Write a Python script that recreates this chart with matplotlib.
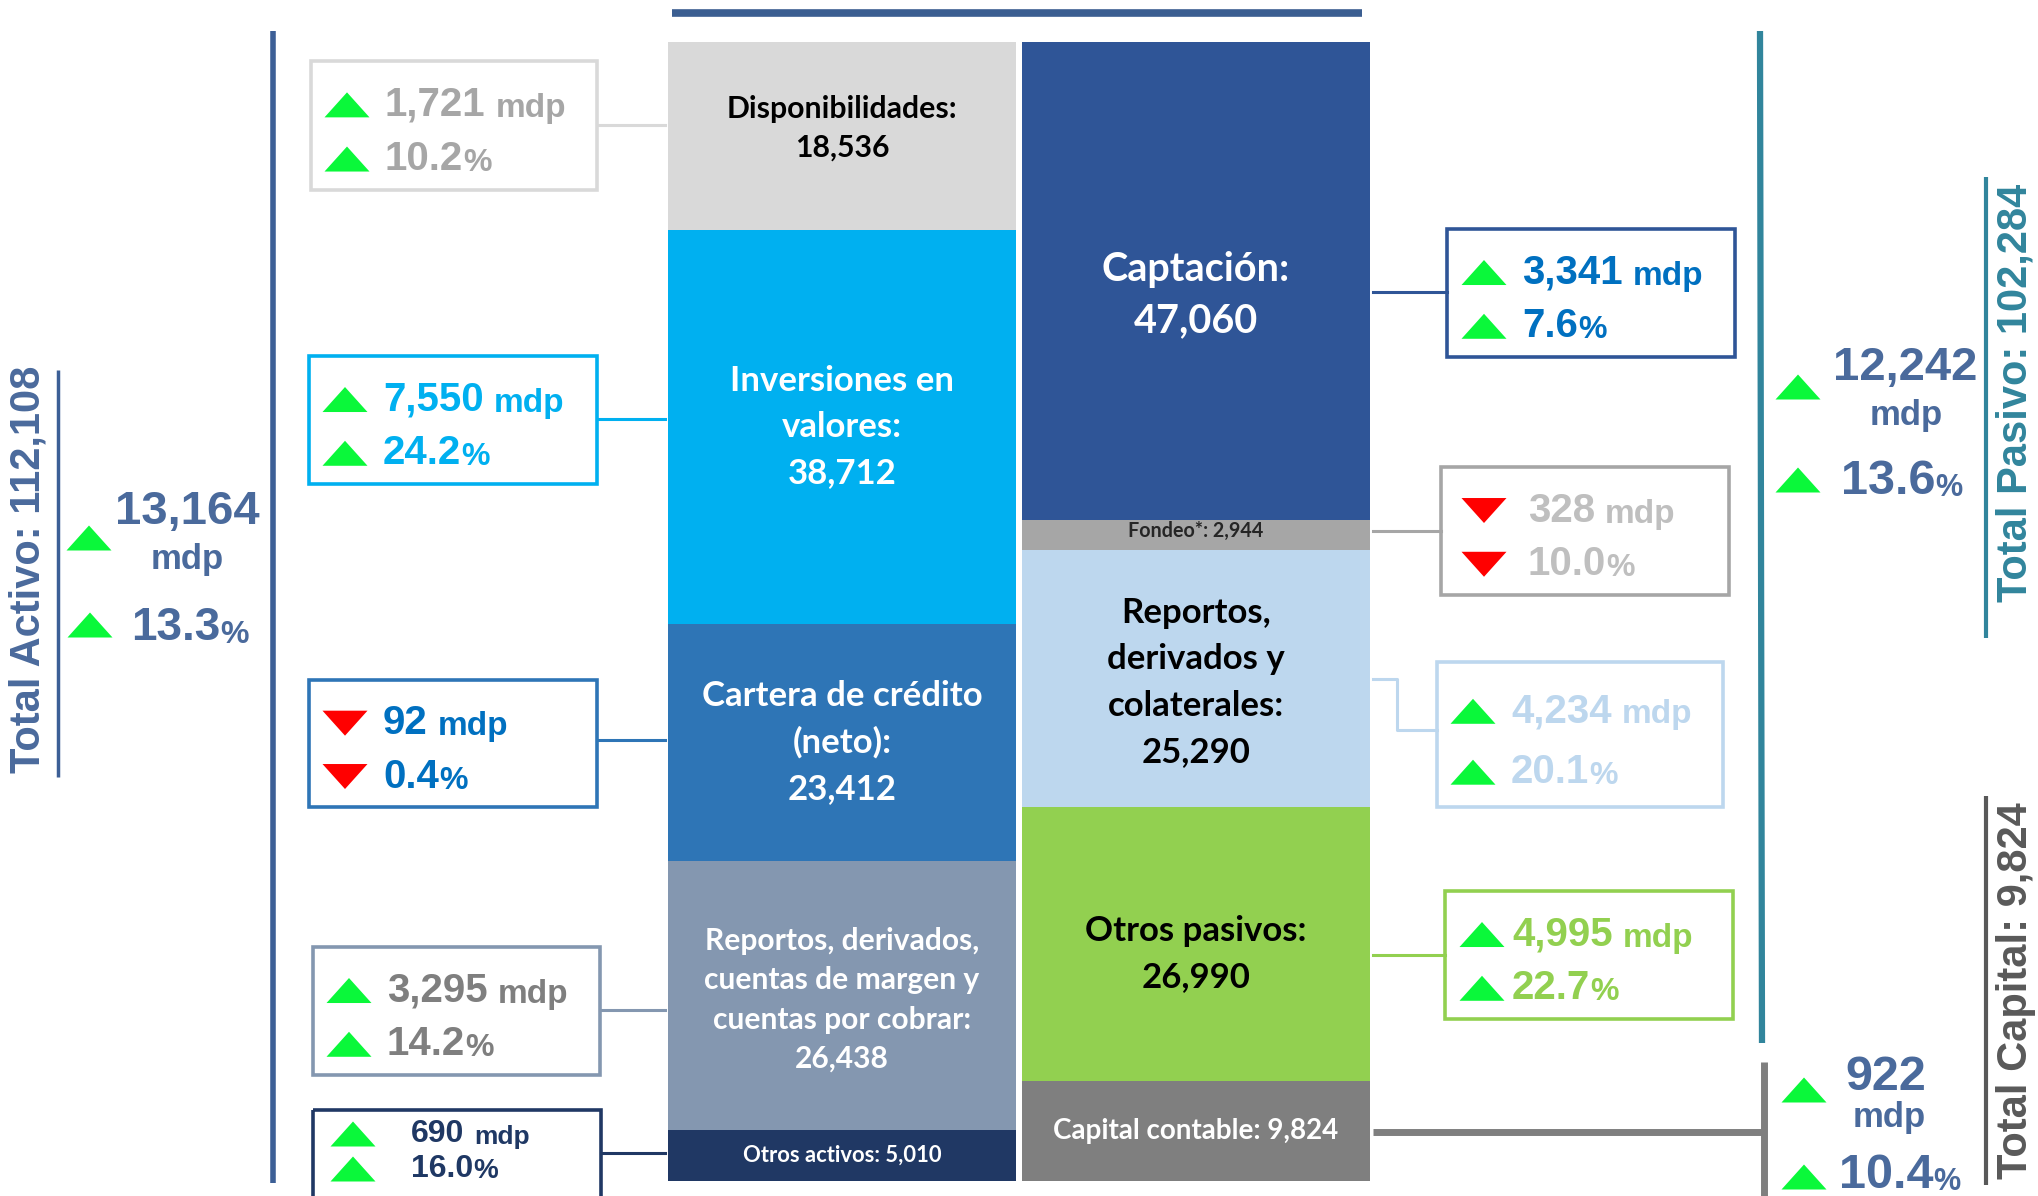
import numpy as np
import matplotlib
matplotlib.use("Agg")
import matplotlib.pyplot as plt
from matplotlib.patches import Rectangle, Polygon

# ---- data ----
activo_names = ["Disponibilidades:\n", "Inversiones en\nvalores:\n", "Cartera de crédito\n(neto):\n",
                "Reportos, derivados,\ncuentas de margen y\ncuentas por cobrar:\n", "Otros activos: "]
activo_values = [18536, 38712, 23412, 26438, 5010]
activo_chg_mdp = [1721, 7550, 92, 3295, 690]
activo_chg_pct = [10.2, 24.2, 0.4, 14.2, 16.0]
activo_dir = [1, 1, -1, 1, 1]

pasivo_names = ["Captación:\n", "Fondeo*: ", "Reportos,\nderivados y\ncolaterales:\n",
                "Otros pasivos:\n", "Capital contable: "]
pasivo_values = [47060, 2944, 25290, 26990, 9824]
pasivo_chg_mdp = [3341, 328, 4234, 4995]
pasivo_chg_pct = [7.6, 10.0, 20.1, 22.7]
pasivo_dir = [1, -1, 1, 1]

total_activo, total_activo_mdp, total_activo_pct = 112108, 13164, 13.3
total_pasivo, total_pasivo_mdp, total_pasivo_pct = 102284, 12242, 13.6
total_capital, total_capital_mdp, total_capital_pct = 9824, 922, 10.4

# ---- styles ----
activo_colors = ["#D9D9D9", "#00B0F0", "#2E75B6", "#8497B0", "#203864"]
activo_txt = ["black", "white", "white", "white", "white"]
activo_fs = [21.8, 25, 25, 21.6, 15.8]
activo_ls = [1.45, 1.55, 1.55, 1.5, 1.2]
activo_dy = [-8, 0, 0, 4, 0]
pasivo_colors = ["#2F5597", "#A6A6A6", "#BDD7EE", "#92D050", "#7F7F7F"]
pasivo_txt = ["white", "#262626", "black", "black", "white"]
pasivo_fs = [28.5, 14.2, 25, 25, 20]
pasivo_ls = [1.5, 1.2, 1.55, 1.55, 1.2]
pasivo_dy = [14, -4, 4, 10, 0]

ARIAL = ["Liberation Sans", "DejaVu Sans"]
CALI = ["Lato", "DejaVu Sans"]
GREEN = "#0AF83A"
RED = "#FF0000"
NAVYTXT = "#4A6A9C"

W, H = 2038, 1196
fig = plt.figure(figsize=(W / 100, H / 100), dpi=100)
cv = fig.add_axes([0, 0, 1, 1], zorder=0)
cv.set_xlim(0, W)
cv.set_ylim(H, 0)
cv.axis("off")

# bars axes
bx0, bx1, by0, by1 = 665, 1373, 42, 1181
bar = fig.add_axes([bx0 / W, 1 - by1 / H, (bx1 - bx0) / W, (by1 - by0) / H], zorder=2)
bar.patch.set_alpha(0)
bar.axis("off")
bar.set_xlim(-0.5, 1.5)
bar.set_ylim(total_activo, 0)
units_per_px = total_activo / (by1 - by0)

for xpos, names, vals, cols, tcols, fss, lss, dys in [
        (0, activo_names, activo_values, activo_colors, activo_txt, activo_fs, activo_ls, activo_dy),
        (1, pasivo_names, pasivo_values, pasivo_colors, pasivo_txt, pasivo_fs, pasivo_ls, pasivo_dy)]:
    bottoms = np.concatenate([[0], np.cumsum(vals)[:-1]])
    bar.bar([xpos] * len(vals), vals, bottom=bottoms, width=0.985, color=cols, linewidth=0)
    for n, v, b, tc, fs, ls, dy in zip(names, vals, bottoms, tcols, fss, lss, dys):
        bar.text(xpos, b + v / 2 + dy * units_per_px, f"{n}{v:,}", ha="center", va="center",
                 color=tc, fontsize=fs, fontweight="bold", family=CALI, linespacing=ls)


def tri(x, y, up=True, w=45, h=25):
    if up:
        pts = [(x - w / 2, y + h / 2), (x + w / 2, y + h / 2), (x, y - h / 2)]
        c = GREEN
    else:
        pts = [(x - w / 2, y - h / 2), (x + w / 2, y - h / 2), (x, y + h / 2)]
        c = RED
    cv.add_patch(Polygon(pts, closed=True, color=c, lw=0, zorder=3))


def two_part(x, y, big, small, color, fsb, fss, gap=0, ha="left"):
    t = cv.text(x, y, big, fontsize=fsb, color=color, fontweight="bold", family=ARIAL,
                va="center", ha=ha, zorder=4)
    cv.annotate(small, xy=(1, 0), xycoords=t, xytext=(gap, 0), textcoords="offset points",
                fontsize=fss, color=color, fontweight="bold", family=ARIAL,
                va="bottom", ha="left", zorder=4)
    return t


def box(x0, y0, x1, y1, ec, tc, mdp, pct, up, conn_y, side, dx=74, rows=(0.34, 0.76),
        fsb=29, fsu=24, fsp=23, tdx=38):
    cv.add_patch(Rectangle((x0, y0), x1 - x0, y1 - y0, fill=False, ec=ec, lw=2.6, zorder=3))
    h = y1 - y0
    r1, r2 = (y0 + rows[0] * h, y0 + rows[1] * h) if rows[0] < 1 else rows
    tri(x0 + dx - tdx, r1, up)
    tri(x0 + dx - tdx, r2, up)
    two_part(x0 + dx, r1, f"{mdp:,}", "mdp", tc, fsb, fsu, gap=7)
    two_part(x0 + dx, r2, f"{pct:.1f}", "%", tc, fsb, fsp, gap=0)
    if conn_y is not None:
        if side == "left":
            cv.plot([x1, bx0], [conn_y, conn_y], color=ec, lw=2.2, zorder=2)
        else:
            cv.plot([bx1, x0], [conn_y, conn_y], color=ec, lw=2.2, zorder=2)


# left boxes
lboxes = [(311, 61, 597, 190, "#D9D9D9", "#A6A6A6", 125),
          (309, 356, 597, 484, "#00B0F0", "#00B0F0", 419),
          (309, 680, 597, 807, "#2E75B6", "#0070C0", 740),
          (313, 947, 600, 1075, "#8497B0", "#7F7F7F", 1010)]
for (x0, y0, x1, y1, ec, tc, cy), m, p, d in zip(lboxes, activo_chg_mdp, activo_chg_pct, activo_dir):
    box(x0, y0, x1, y1, ec, tc, m, p, d > 0, cy, "left")
# small last box
box(313, 1110, 601, 1230, "#203864", "#1F3864", activo_chg_mdp[4], activo_chg_pct[4],
    activo_dir[4] > 0, 1153, "left", dx=98, rows=(1134, 1169), fsb=23, fsu=19, fsp=20, tdx=58)

# right boxes
rboxes = [(1447, 229, 1735, 357, "#2F5597", "#0070C0", 292),
          (1441, 467, 1729, 595, "#A6A6A6", "#BFBFBF", 531),
          (1437, 662, 1723, 807, "#BDD7EE", "#BDD7EE", None),
          (1445, 891, 1733, 1019, "#92D050", "#92D050", 955)]
dxs = [75, 87, 74, 67]
tdxs = [38, 44, 38, 30]
for (x0, y0, x1, y1, ec, tc, cy), m, p, d, dx, tdx in zip(rboxes, pasivo_chg_mdp, pasivo_chg_pct,
                                                          pasivo_dir, dxs, tdxs):
    box(x0, y0, x1, y1, ec, tc, m, p, d > 0, cy, "right", dx=dx, tdx=tdx)
# elbow connector for reportos pasivo
cv.plot([bx1, 1397, 1397, 1437], [679, 679, 730, 730], color="#BDD7EE", lw=2.2, zorder=2)

# brackets and top line
cv.plot([672, 1362], [13, 13], color="#3B5E91", lw=5.5, solid_capstyle="butt")
cv.plot([273, 273], [31, 1183], color="#3C5F96", lw=4, solid_capstyle="butt")
cv.plot([58, 58], [370, 777], color="#3C5F96", lw=2.5, solid_capstyle="butt")
cv.plot([1760, 1762], [31, 1043], color="#31859C", lw=4.5, solid_capstyle="butt")
cv.plot([1764, 1764], [1062, 1200], color="#7F7F7F", lw=5, solid_capstyle="butt")
cv.plot([bx1, 1764], [1132, 1132], color="#7F7F7F", lw=5, solid_capstyle="butt")
cv.plot([1986, 1986], [177, 638], color="#31859C", lw=3, solid_capstyle="butt")
cv.plot([1986, 1986], [796, 1185], color="#595959", lw=3, solid_capstyle="butt")

# totals
cv.text(29, 569, f"Total Activo: {total_activo:,}", rotation=90, ha="center", va="center",
        fontsize=30, fontweight="bold", family=ARIAL, color="#4A6A9C")
cv.text(2016, 393, f"Total Pasivo: {total_pasivo:,}", rotation=90, ha="center", va="center",
        fontsize=30, fontweight="bold", family=ARIAL, color="#31859C")
cv.text(2016, 991, f"Total Capital: {total_capital:,}", rotation=90, ha="center", va="center",
        fontsize=30, fontweight="bold", family=ARIAL, color="#595959")

# big change figures
tri(89, 538)
cv.text(187, 512, f"{total_activo_mdp:,}", ha="center", va="center", fontsize=34,
        fontweight="bold", family=ARIAL, color=NAVYTXT)
cv.text(187, 560, "mdp", ha="center", va="center", fontsize=25, fontweight="bold",
        family=ARIAL, color=NAVYTXT)
tri(90, 625)
two_part(131, 628, f"{total_activo_pct:.1f}", "%", NAVYTXT, 33, 23)

tri(1798, 387)
cv.text(1905, 368, f"{total_pasivo_mdp:,}", ha="center", va="center", fontsize=34,
        fontweight="bold", family=ARIAL, color=NAVYTXT)
cv.text(1906, 415, "mdp", ha="center", va="center", fontsize=25, fontweight="bold",
        family=ARIAL, color=NAVYTXT)
tri(1798, 480)
two_part(1841, 481, f"{total_pasivo_pct:.1f}", "%", NAVYTXT, 35, 22)

tri(1804, 1090)
cv.text(1886, 1077, f"{total_capital_mdp:,}", ha="center", va="center", fontsize=35,
        fontweight="bold", family=ARIAL, color=NAVYTXT)
cv.text(1889, 1117, "mdp", ha="center", va="center", fontsize=25, fontweight="bold",
        family=ARIAL, color=NAVYTXT)
tri(1804, 1177)
two_part(1839, 1175, f"{total_capital_pct:.1f}", "%", NAVYTXT, 35, 22)

fig.savefig("out.png", dpi=100, facecolor="white")
